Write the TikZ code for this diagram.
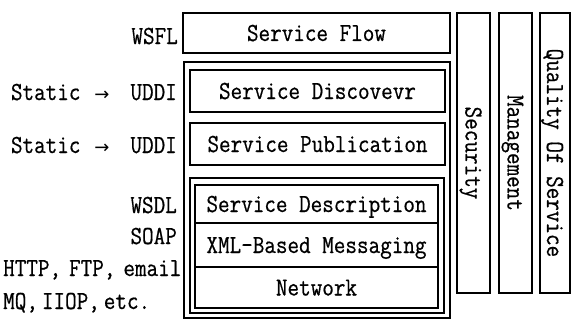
\documentclass[tikz,border=0pt]{standalone}
\usepackage{fontspec}
\newfontfamily\reffont{Latin Modern Mono}[FakeStretch=0.865,FakeBold=0.6]
\newfontfamily\arrowfont{DejaVu Sans}
\begin{document}
\begin{tikzpicture}[x=1pt,y=-1pt,
  txt/.style={font=\reffont\fontsize{26}{30}\selectfont, inner sep=0pt, text height=16pt, text depth=0pt},
  box/.style={draw, line width=1.2pt, inner sep=0pt},
  lbl/.style={txt, anchor=east}
]
\newcommand\staticuddi{Static\hspace{13pt}\makebox[17pt]{\arrowfont\fontsize{18}{20}\selectfont →}\hspace{20pt}UDDI}
\useasboundingbox (0,0) rectangle (571,324);
% containers
\draw[line width=1.2pt] (184,62) rectangle (450,318);
\draw[line width=1.2pt] (190,178) rectangle (444,313);
% boxes
\node[box, txt, minimum width=267pt, minimum height=40pt] (flow) at (316.5,33) {Service Flow};
\node[box, txt, minimum width=255pt, minimum height=42pt] (disc) at (317.5,91) {Service Discovevr};
\node[box, txt, minimum width=255pt, minimum height=42pt] (pub) at (317.5,144) {Service Publication};
\node[box, txt, minimum width=243pt, minimum height=38pt] (desc) at (316.5,204) {Service Description};
\node[box, txt, minimum width=243pt, minimum height=44pt] (xml) at (316.5,245) {XML-Based Messaging};
\node[box, txt, minimum width=243pt, minimum height=41pt] (net) at (316.5,287.5) {Network};
% vertical bars
\node[box, minimum width=33pt, minimum height=280pt] (sec) at (473.5,153) {};
\node[txt, rotate=-90] (sect) at (sec.center) {Security};
\node[box, minimum width=33pt, minimum height=280pt] (mgmt) at (515.5,153) {};
\node[txt, rotate=-90] (mgmtt) at (mgmt.center) {Management};
\node[box, minimum width=30pt, minimum height=280pt] (qos) at (555,153) {};
\node[txt, rotate=-90] (qost) at (qos.center) {Quality Of Service};
% left labels
\node[lbl] (wsfl) at (178,36) {WSFL};
\node[lbl] (uddi1) at (177,92) {\staticuddi};
\node[lbl] (uddi2) at (177,145) {\staticuddi};
\node[lbl] (wsdl) at (177,205) {WSDL};
\node[lbl] (soap) at (177,236) {SOAP};
\node[txt, anchor=west] (http) at (3,268) {HTTP,\hspace{8pt}FTP,\hspace{8pt}email};
\node[txt, anchor=west] (mq) at (3,301) {MQ,\hspace{4pt}IIOP,\hspace{4pt}etc.};
\end{tikzpicture}
\end{document}
